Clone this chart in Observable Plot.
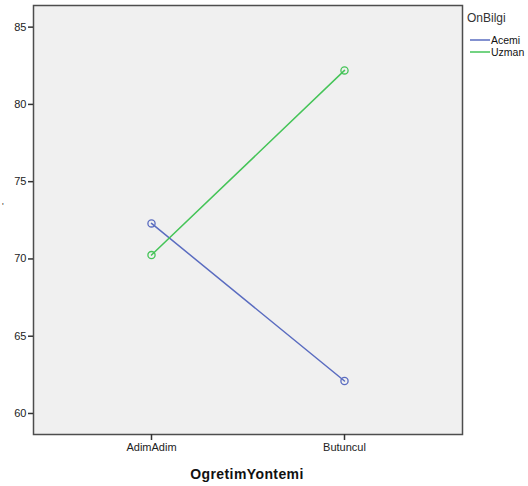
<!DOCTYPE html>
<html>
<head>
<meta charset="utf-8">
<script src="https://cdn.jsdelivr.net/npm/d3@7"></script>
<script src="https://cdn.jsdelivr.net/npm/@observablehq/plot@0.6"></script>
<style>
  html, body { margin: 0; padding: 0; background: #fff; }
  #chart { position: relative; width: 528px; height: 486px; }
  svg { font-family: "Liberation Sans", Arial, sans-serif; }
</style>
</head>
<body>
<div id="chart"></div>
<script>
const categories = ["AdimAdim", "Butuncul"];
const series = ["Acemi", "Uzman"];
const acemiValues = [72.3, 62.1];
const uzmanValues = [70.25, 82.2];
const yTicks = [60, 65, 70, 75, 80, 85];
const colors = ["#5a6cc0", "#45c458"];

const data = [];
categories.forEach((c, i) => {
  data.push({ cat: c, grp: "Acemi", v: acemiValues[i] });
  data.push({ cat: c, grp: "Uzman", v: uzmanValues[i] });
});

const W = 528, H = 486;
const plot = Plot.plot({
  width: W,
  height: H,
  marginLeft: 33,
  marginTop: 5,
  marginRight: 66,
  marginBottom: 52,
  style: { fontFamily: "Liberation Sans, Arial, sans-serif", background: "#fff", overflow: "visible" },
  x: { type: "point", domain: categories, padding: 0.61, label: null },
  y: { domain: [58.64, 86.4], label: null },
  color: { domain: series, range: colors },
  marks: [
    Plot.frame({ fill: "#f0f0f0" }),
    Plot.line(data, { x: "cat", y: "v", z: "grp", stroke: "grp", strokeWidth: 1.5 }),
    Plot.dot(data, { x: "cat", y: "v", stroke: "grp", fill: "none", r: 3.6, strokeWidth: 1.3 }),
    Plot.frame({ stroke: "#4d4d4d", strokeWidth: 1.5 }),
    Plot.axisY({ ticks: yTicks, tickSize: 5, tickPadding: 2, fontSize: 11, stroke: "#333", strokeWidth: 1.5, fill: "#222" }),
    Plot.axisX({ tickSize: 6, tickPadding: 3, fontSize: 11, stroke: "#333", strokeWidth: 1.5, fill: "#222" })
  ]
});
document.getElementById("chart").appendChild(plot);

const svg = d3.select(plot);
// x axis title
svg.append("text")
  .attr("x", 247).attr("y", 479)
  .attr("text-anchor", "middle")
  .attr("font-size", 14).attr("font-weight", "bold")
  .attr("fill", "#111")
  .attr("letter-spacing", 0.4)
  .text("OgretimYontemi");
// truncated y axis title mark
svg.append("text")
  .attr("x", 2).attr("y", 209)
  .attr("text-anchor", "start")
  .attr("font-size", 9).attr("fill", "#333")
  .text("'");
// legend
const lg = svg.append("g").attr("text-anchor", "start").attr("font-family", "Liberation Sans, Arial, sans-serif");
lg.append("text").attr("x", 467).attr("y", 22).attr("font-size", 12).attr("fill", "#333").text("OnBilgi");
series.forEach((s, i) => {
  const y = 40 + i * 12;
  lg.append("line").attr("x1", 470).attr("x2", 490).attr("y1", y).attr("y2", y)
    .attr("stroke", colors[i]).attr("stroke-width", 1.5);
  lg.append("text").attr("x", 491).attr("y", y + 4).attr("font-size", 10.5).attr("fill", "#111").text(s);
});
</script>
</body>
</html>
